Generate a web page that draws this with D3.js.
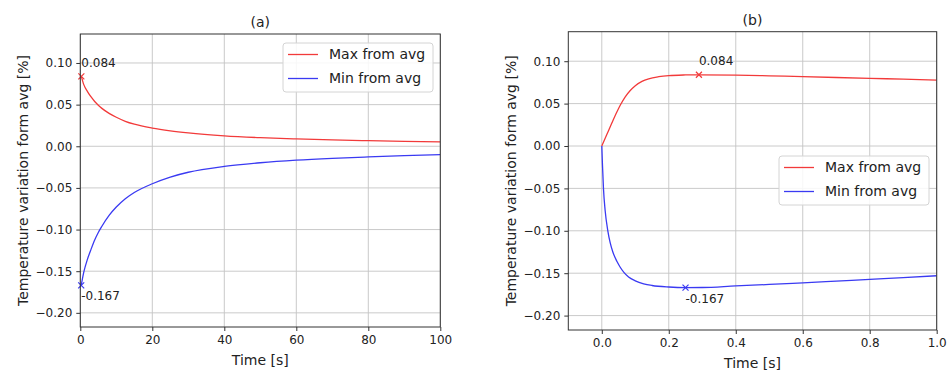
<!DOCTYPE html>
<html lang="en">
<head>
  <meta charset="UTF-8">
  <title>Temperature variation</title>
  <script src="https://cdn.jsdelivr.net/npm/d3@7"></script>
  <style>
    body { margin: 0; background: #fff; }
    svg { display: block; font-family: "DejaVu Sans", sans-serif; }
  </style>
</head>
<body>
  <div id="chart"></div>

  <script>
    // data
    const timeMaxA = [0.29, 1, 2, 3, 4, 5, 6, 8, 10, 12.5, 15, 20, 25, 30, 40, 50, 60, 70, 80, 90, 100];
    const valMaxA  = [0.084, 0.0737, 0.0657, 0.0592, 0.0538, 0.0493, 0.0455, 0.0395, 0.0348, 0.0300, 0.0265, 0.0218, 0.0185, 0.0160, 0.0125, 0.0103, 0.0088, 0.0076, 0.0067, 0.0059, 0.0053];
    const timeMinA = [0.25, 1, 2, 3, 4, 5, 6, 8, 10, 12.5, 15, 20, 25, 30, 40, 50, 60, 70, 80, 90, 100];
    const valMinA  = [-0.167, -0.1505, -0.1355, -0.1235, -0.1125, -0.1035, -0.0960, -0.0830, -0.0730, -0.0630, -0.0555, -0.0450, -0.0370, -0.0312, -0.0242, -0.0198, -0.0167, -0.0145, -0.0128, -0.0113, -0.0100];

    const timeMaxB = [0, 0.015, 0.03, 0.045, 0.055, 0.07, 0.085, 0.1, 0.12, 0.14, 0.17, 0.2, 0.25, 0.29, 0.4, 0.5, 0.6, 0.7, 0.8, 0.9, 1.0];
    const valMaxB  = [0, 0.0135, 0.027, 0.040, 0.048, 0.058, 0.0655, 0.0712, 0.0763, 0.0793, 0.0817, 0.0830, 0.0838, 0.0840, 0.0836, 0.0828, 0.0818, 0.0808, 0.0798, 0.0788, 0.0778];
    const timeMinB = [0, 0.002, 0.005, 0.01, 0.018, 0.025, 0.033, 0.045, 0.055, 0.066, 0.08, 0.1, 0.125, 0.15, 0.2, 0.25, 0.3, 0.4, 0.5, 0.6, 0.7, 0.8, 0.9, 1.0];
    const valMinB  = [0, -0.022, -0.05, -0.076, -0.100, -0.114, -0.125, -0.136, -0.1430, -0.1490, -0.1545, -0.1590, -0.1625, -0.1645, -0.1663, -0.1670, -0.1669, -0.1650, -0.1633, -0.1614, -0.1594, -0.1573, -0.1552, -0.1530];

    // marked extremes: [time, value]
    const peaksA = [[0.29, 0.084], [0.25, -0.167]];
    const peaksB = [[0.29, 0.084], [0.25, -0.167]];
    const peakLabels = ["0.084", "-0.167"];
    const labelLevels = [0.10, -0.18];

    const seriesNames = ["Max from avg", "Min from avg"];
    const seriesColors = ["#f23a3a", "#3a3af2"];
    const yTicks = [-0.20, -0.15, -0.10, -0.05, 0.00, 0.05, 0.10];
    const xTicksA = [0, 20, 40, 60, 80, 100];
    const xTicksB = [0.0, 0.2, 0.4, 0.6, 0.8, 1.0];

    const W = 948, H = 371;
    const svg = d3.select("#chart").append("svg")
      .attr("width", W).attr("height", H);

    function drawPanel(p) {
      const x = d3.scaleLinear().domain(p.xDomain).range([p.left, p.right]);
      const y = d3.scaleLinear().domain([-0.2170, 0.1348]).range([p.bottom, p.top]);
      const g = svg.append("g");

      // grid
      g.append("g").selectAll("line").data(p.xTicks).join("line")
        .attr("x1", d => x(d)).attr("x2", d => x(d))
        .attr("y1", p.top).attr("y2", p.bottom)
        .attr("stroke", "#c4c4c4").attr("stroke-width", 0.9);
      g.append("g").selectAll("line").data(yTicks).join("line")
        .attr("x1", p.left).attr("x2", p.right)
        .attr("y1", d => y(d)).attr("y2", d => y(d))
        .attr("stroke", "#c4c4c4").attr("stroke-width", 0.9);

      const clipId = "clip" + p.id;
      svg.append("clipPath").attr("id", clipId).append("rect")
        .attr("x", p.left).attr("y", p.top)
        .attr("width", p.right - p.left).attr("height", p.bottom - p.top);

      const line = d3.line().x(d => x(d[0])).y(d => y(d[1])).curve(d3.curveMonotoneX);
      p.series.forEach((s, i) => {
        g.append("path")
          .datum(d3.zip(s.t, s.v))
          .attr("clip-path", "url(#" + clipId + ")")
          .attr("fill", "none")
          .attr("stroke", seriesColors[i])
          .attr("stroke-width", 1.3)
          .attr("d", line);
      });

      // x markers and their labels
      p.peaks.forEach((pk, i) => {
        const cx = x(pk[0]), cy = y(pk[1]);
        g.append("path")
          .attr("d", `M${cx - 3},${cy - 3}L${cx + 3},${cy + 3}M${cx - 3},${cy + 3}L${cx + 3},${cy - 3}`)
          .attr("stroke", seriesColors[i]).attr("stroke-width", 1.2);
        g.append("text")
          .attr("x", cx).attr("y", y(labelLevels[i]))
          .attr("dy", "0.35em")
          .attr("font-size", 12).attr("fill", "#222")
          .text(peakLabels[i]);
      });

      // frame
      g.append("rect")
        .attr("x", p.left).attr("y", p.top)
        .attr("width", p.right - p.left).attr("height", p.bottom - p.top)
        .attr("fill", "none").attr("stroke", "#333").attr("stroke-width", 1);

      const xAxis = g.append("g")
        .attr("transform", `translate(0,${p.bottom})`)
        .call(d3.axisBottom(x).tickValues(p.xTicks).tickFormat(p.xFormat).tickSize(4).tickPadding(4));
      const yAxis = g.append("g")
        .attr("transform", `translate(${p.left},0)`)
        .call(d3.axisLeft(y).tickValues(yTicks).tickFormat(d3.format(".2f")).tickSize(4).tickPadding(4));
      [xAxis, yAxis].forEach(a => {
        a.select(".domain").remove();
        a.selectAll(".tick line").attr("stroke", "#333");
        a.selectAll("text").attr("font-size", 12).attr("fill", "#222")
          .attr("font-family", "DejaVu Sans");
      });

      g.append("text")
        .attr("x", (p.left + p.right) / 2).attr("y", p.top - 7)
        .attr("text-anchor", "middle").attr("font-size", 14).attr("fill", "#222")
        .text(p.title);
      g.append("text")
        .attr("x", (p.left + p.right) / 2).attr("y", p.bottom + 38)
        .attr("text-anchor", "middle").attr("font-size", 14).attr("fill", "#222")
        .text("Time [s]");
      g.append("text")
        .attr("transform", `translate(${p.left - 57.5},${(p.top + p.bottom) / 2}) rotate(-90)`)
        .attr("text-anchor", "middle").attr("dy", "0.35em")
        .attr("font-size", 14).attr("fill", "#222")
        .text("Temperature variation form avg [%]");

      // legend
      const lg = g.append("g").attr("transform", `translate(${p.legendX},${p.legendY})`);
      lg.append("rect")
        .attr("width", 150).attr("height", 49).attr("rx", 3)
        .attr("fill", "#fff").attr("fill-opacity", 0.85)
        .attr("stroke", "#d4d4d4");
      seriesNames.forEach((name, i) => {
        const ly = 11.5 + i * 24;
        lg.append("line")
          .attr("x1", 5).attr("x2", 35).attr("y1", ly).attr("y2", ly)
          .attr("stroke", seriesColors[i]).attr("stroke-width", 1.3);
        lg.append("text")
          .attr("x", 46).attr("y", ly).attr("dy", "0.35em")
          .attr("font-size", 14).attr("fill", "#222")
          .text(name);
      });
    }

    drawPanel({
      id: "a", title: "(a)",
      left: 80.3, right: 440.3, top: 34, bottom: 327,
      xDomain: [0, 100], xTicks: xTicksA, xFormat: d3.format("d"),
      series: [{ t: timeMaxA, v: valMaxA }, { t: timeMinA, v: valMinA }],
      peaks: peaksA, legendX: 283, legendY: 43
    });
    drawPanel({
      id: "b", title: "(b)",
      left: 568.3, right: 936.7, top: 31.7, bottom: 330,
      xDomain: [-0.1, 1.0], xTicks: xTicksB, xFormat: d3.format(".1f"),
      series: [{ t: timeMaxB, v: valMaxB }, { t: timeMinB, v: valMinB }],
      peaks: peaksB, legendX: 779, legendY: 156
    });
  </script>
</body>
</html>
